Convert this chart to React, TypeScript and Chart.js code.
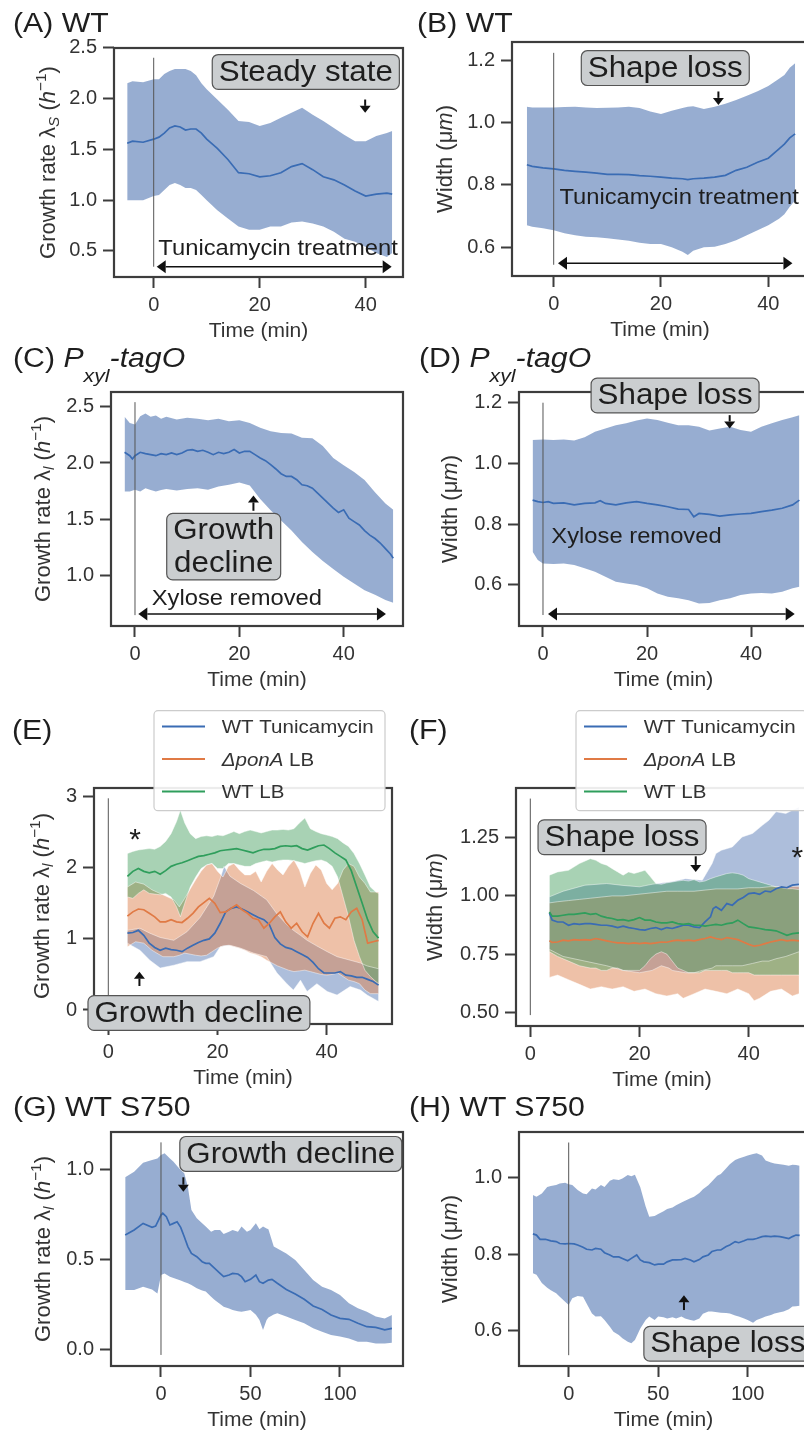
import React, { useEffect, useRef } from "react";
import { Chart, registerables } from "chart.js";
Chart.register(...registerables);

if (typeof document !== "undefined") {
  document.documentElement.style.overflow = "hidden";
  document.body.style.margin = "0";
  document.body.style.overflow = "hidden";
}

const FONT = '"Liberation Sans", Arial, Helvetica, sans-serif';
const INK = "#1e1e1e";
const AXIS = "#3d3d3d";
const TICK_TEXT = "#333333";
const STRETCH = 1.08;

const BLUE_LINE = "#3a6cb4";
const ORANGE_LINE = "#e07a45";
const GREEN_LINE = "#2f9e5c";
const BLUE_BAND = "rgba(76,114,176,0.58)";
const BLUE_BAND_MIX = "rgba(76,114,176,0.46)";
const ORANGE_BAND = "rgba(221,132,82,0.5)";
const GREEN_BAND = "rgba(70,160,95,0.47)";
const EDGE = "rgba(255,255,255,0.45)";

// ---------------- Panel A (WT, growth rate) ----------------
const aTime = [-5, -4, -2, 0, 1, 2, 3, 4, 5, 6, 7, 8, 9, 10, 12, 14, 16, 18, 20, 22, 24, 26, 28, 30, 32, 34, 36, 38, 40, 42, 44, 45];
const aMean = [1.56, 1.58, 1.57, 1.6, 1.62, 1.66, 1.71, 1.73, 1.72, 1.69, 1.7, 1.7, 1.66, 1.6, 1.51, 1.4, 1.27, 1.26, 1.23, 1.24, 1.27, 1.33, 1.36, 1.3, 1.23, 1.2, 1.15, 1.09, 1.04, 1.06, 1.07, 1.06];
const aUpper = [2.15, 2.17, 2.16, 2.19, 2.19, 2.24, 2.27, 2.29, 2.29, 2.29, 2.27, 2.23, 2.15, 2.09, 1.99, 1.89, 1.78, 1.77, 1.73, 1.76, 1.81, 1.86, 1.91, 1.84, 1.78, 1.71, 1.64, 1.58, 1.58, 1.63, 1.66, 1.68];
const aLower = [1.0, 1.0, 1.0, 1.04, 1.05, 1.1, 1.15, 1.17, 1.15, 1.12, 1.12, 1.1, 1.05, 1.0, 0.9, 0.82, 0.74, 0.71, 0.71, 0.74, 0.74, 0.78, 0.79, 0.77, 0.74, 0.69, 0.62, 0.59, 0.54, 0.48, 0.44, 0.48];

// ---------------- Panel B (WT, width) ----------------
const bTime = [-5, -4, -2, 0, 2, 4, 6, 8, 10, 12, 14, 16, 18, 20, 22, 24, 25, 26, 28, 30, 32, 34, 36, 38, 40, 42, 43, 44, 45];
const bMean = [0.864, 0.859, 0.854, 0.851, 0.846, 0.843, 0.84, 0.837, 0.833, 0.833, 0.832, 0.829, 0.827, 0.824, 0.821, 0.819, 0.816, 0.819, 0.821, 0.824, 0.83, 0.846, 0.856, 0.872, 0.885, 0.915, 0.93, 0.95, 0.963];
const bUpper = [1.05, 1.048, 1.048, 1.048, 1.049, 1.05, 1.048, 1.046, 1.047, 1.048, 1.05, 1.046, 1.035, 1.027, 1.037, 1.046, 1.05, 1.052, 1.043, 1.05, 1.06, 1.072, 1.085, 1.1, 1.117, 1.14, 1.152, 1.175, 1.19];
const bLower = [0.67, 0.665, 0.66, 0.654, 0.644, 0.638, 0.633, 0.631, 0.628, 0.624, 0.62, 0.614, 0.61, 0.61, 0.599, 0.585, 0.574, 0.588, 0.599, 0.601, 0.61, 0.622, 0.638, 0.654, 0.67, 0.691, 0.705, 0.729, 0.75];

// ---------------- Panel C (Pxyl-tagO, growth rate) ----------------
const cTime = [-2, -1, -0.5, 0, 1, 2, 3, 4, 5, 6, 7, 8, 9, 10, 11, 12, 13, 14, 15, 16, 17, 18, 19, 20, 21, 22, 23, 24, 25, 26, 27, 28, 29, 30, 31, 32, 33, 34, 35, 36, 37, 38, 39, 40, 41, 42, 43, 44, 45, 46, 47, 48, 49, 49.5];
const cMean = [2.095, 2.065, 2.036, 2.065, 2.095, 2.083, 2.074, 2.065, 2.083, 2.074, 2.089, 2.074, 2.089, 2.113, 2.119, 2.104, 2.113, 2.095, 2.074, 2.095, 2.083, 2.095, 2.119, 2.089, 2.104, 2.104, 2.074, 2.045, 2.021, 1.985, 1.947, 1.905, 1.881, 1.881, 1.852, 1.807, 1.798, 1.777, 1.733, 1.688, 1.644, 1.599, 1.561, 1.585, 1.51, 1.48, 1.45, 1.4, 1.36, 1.33, 1.29, 1.24, 1.19, 1.155];
const cBandTime = [-2, -1, 0, 1, 2, 3, 4, 5, 6, 8, 10, 12, 14, 16, 18, 20, 22, 24, 26, 28, 30, 32, 34, 36, 38, 40, 42, 44, 46, 48, 49.5];
const cUpper = [2.41, 2.356, 2.341, 2.415, 2.439, 2.41, 2.421, 2.392, 2.41, 2.386, 2.401, 2.392, 2.38, 2.392, 2.371, 2.38, 2.356, 2.312, 2.282, 2.267, 2.261, 2.223, 2.22, 2.15, 2.045, 1.98, 1.92, 1.85, 1.74, 1.64, 1.585];
const cLower = [1.748, 1.748, 1.763, 1.748, 1.777, 1.76, 1.748, 1.76, 1.769, 1.757, 1.769, 1.777, 1.763, 1.792, 1.807, 1.828, 1.8, 1.68, 1.58, 1.49, 1.4, 1.3, 1.21, 1.13, 1.06, 0.99, 0.93, 0.87, 0.83, 0.785, 0.76];

// ---------------- Panel D (Pxyl-tagO, width) ----------------
const dTime = [-2, -1, 0, 1, 2, 4, 6, 8, 10, 11, 12, 14, 16, 18, 20, 22, 24, 26, 28, 29, 30, 32, 34, 36, 38, 40, 42, 44, 46, 48, 49.3];
const dMean = [0.879, 0.874, 0.871, 0.874, 0.868, 0.87, 0.863, 0.868, 0.87, 0.877, 0.868, 0.863, 0.87, 0.874, 0.868, 0.863, 0.857, 0.849, 0.848, 0.824, 0.835, 0.832, 0.826, 0.83, 0.833, 0.835, 0.841, 0.846, 0.852, 0.863, 0.879];
const dBandTime = [-2, -1, 0, 2, 4, 6, 8, 10, 12, 14, 16, 18, 20, 22, 24, 26, 28, 30, 32, 34, 36, 38, 40, 42, 44, 46, 48, 49.3];
const dUpper = [1.077, 1.078, 1.079, 1.077, 1.079, 1.075, 1.086, 1.104, 1.115, 1.126, 1.132, 1.141, 1.148, 1.143, 1.134, 1.126, 1.126, 1.121, 1.108, 1.115, 1.121, 1.11, 1.104, 1.121, 1.132, 1.143, 1.152, 1.159];
const dLower = [0.709, 0.681, 0.67, 0.668, 0.67, 0.665, 0.654, 0.643, 0.626, 0.61, 0.604, 0.599, 0.588, 0.571, 0.56, 0.555, 0.549, 0.538, 0.54, 0.549, 0.555, 0.566, 0.571, 0.573, 0.571, 0.577, 0.588, 0.593];

// ---------------- Panel E (growth rate, three conditions) ----------------
const eMeanTime = [3.5, 4.5, 5.5, 6.5, 7.5, 8.5, 9.5, 10.5, 11.5, 12.5, 13.5, 14.5, 15.5, 16.5, 17.5, 18.5, 19.5, 20.5, 21.5, 22.5, 23.5, 24.5, 25.5, 26.5, 27.5, 28.5, 29.5, 30.5, 31.5, 32.5, 33.5, 34.5, 35.5, 36.5, 37.5, 38.5, 39.5, 40.5, 41.5, 42.5, 43.5, 44.5, 45.5, 46.5, 47.5, 48.5, 49.5];
const eTunMean = [1.08, 1.09, 1.12, 1.05, 0.94, 0.88, 0.84, 0.87, 0.85, 0.84, 0.82, 0.87, 0.91, 0.95, 0.98, 1.0, 1.08, 1.22, 1.38, 1.43, 1.45, 1.42, 1.38, 1.34, 1.3, 1.27, 1.2, 1.02, 0.93, 0.88, 0.86, 0.82, 0.78, 0.74, 0.67, 0.58, 0.52, 0.52, 0.52, 0.54, 0.49, 0.48, 0.46, 0.46, 0.43, 0.4, 0.35];
const eTunBandTime = [3.5, 5.8, 7.6, 9.5, 12, 14.4, 16.8, 19.3, 20.5, 21.2, 22.3, 24.2, 26.6, 29, 30.9, 32.7, 33.9, 35.2, 36.4, 38.2, 40.1, 41.9, 44.3, 46.2, 47.4, 49.5];
const eTunUpper = [1.12, 1.15, 1.08, 1.02, 0.98, 1.1, 1.3, 1.6, 1.85, 2.02, 1.88, 1.78, 1.68, 1.55, 1.35, 1.2, 1.12, 1.05, 0.98, 0.9, 0.82, 0.75, 0.7, 0.66, 0.62, 0.58];
const eTunLower = [0.94, 0.84, 0.7, 0.59, 0.63, 0.68, 0.68, 0.75, 0.89, 0.9, 0.91, 0.87, 0.8, 0.75, 0.52, 0.37, 0.28, 0.42, 0.26, 0.37, 0.26, 0.21, 0.33, 0.28, 0.21, 0.12];
const ePonMean = [1.32, 1.38, 1.42, 1.41, 1.36, 1.31, 1.24, 1.24, 1.27, 1.24, 1.23, 1.29, 1.36, 1.45, 1.51, 1.57, 1.5, 1.37, 1.38, 1.43, 1.48, 1.41, 1.36, 1.29, 1.27, 1.15, 1.22, 1.31, 1.38, 1.24, 1.15, 1.22, 1.1, 1.03, 1.22, 1.36, 1.22, 1.15, 1.29, 1.31, 1.27, 1.38, 1.43, 1.27, 0.94, 0.96, 0.98];
const ePonBandTime = [3.5, 5, 6.5, 8, 10, 12, 13, 14, 16, 17, 18, 19, 20, 21, 22, 23, 24, 25, 26, 27, 28, 29, 30, 31, 32, 33, 34, 35, 36, 37, 38, 39, 40, 41, 42, 43, 44, 45, 46, 47, 48, 49.5];
const ePonUpper = [1.73, 1.8, 1.77, 1.69, 1.62, 1.55, 1.45, 1.57, 1.83, 1.95, 2.04, 2.06, 1.95, 1.87, 2.02, 2.06, 1.97, 1.9, 1.9, 1.95, 1.8, 1.95, 2.06, 1.97, 1.9, 2.02, 2.11, 1.97, 1.73, 1.92, 2.04, 1.97, 1.78, 1.69, 1.78, 1.97, 2.06, 2.02, 1.87, 1.78, 1.66, 1.66];
const ePonLower = [0.89, 0.96, 0.94, 0.84, 0.75, 0.75, 0.77, 0.8, 0.77, 0.76, 0.77, 0.82, 0.87, 0.9, 0.91, 0.89, 0.87, 0.84, 0.8, 0.78, 0.75, 0.7, 0.66, 0.62, 0.59, 0.56, 0.54, 0.55, 0.56, 0.54, 0.52, 0.5, 0.49, 0.5, 0.52, 0.47, 0.42, 0.4, 0.37, 0.28, 0.23, 0.23];
const eLbMean = [1.88, 1.95, 1.99, 1.95, 1.93, 1.95, 1.91, 1.96, 2.02, 2.05, 2.07, 2.1, 2.13, 2.16, 2.17, 2.19, 2.21, 2.24, 2.25, 2.26, 2.27, 2.25, 2.23, 2.21, 2.24, 2.26, 2.26, 2.27, 2.3, 2.31, 2.3, 2.31, 2.27, 2.25, 2.28, 2.31, 2.32, 2.27, 2.21, 2.16, 2.11, 1.96, 1.73, 1.5, 1.27, 1.1, 1.01];
const eLbBandTime = [3.5, 4.5, 5.5, 6.5, 7.5, 8.5, 9.5, 10.5, 11.5, 12.5, 13.2, 14, 15, 16, 17, 18, 19, 20, 21, 22, 23, 24, 25, 26, 27, 28, 29, 30, 31, 32, 33, 34, 35, 36, 37, 38, 39, 40, 41, 42, 43, 44, 45, 46, 47, 48, 49, 49.5];
const eLbUpper = [2.2, 2.23, 2.25, 2.26, 2.27, 2.26, 2.3, 2.37, 2.48, 2.65, 2.81, 2.63, 2.48, 2.41, 2.44, 2.45, 2.44, 2.46, 2.45, 2.48, 2.51, 2.48, 2.51, 2.53, 2.51, 2.49, 2.51, 2.53, 2.53, 2.54, 2.53, 2.55, 2.63, 2.7, 2.55, 2.51, 2.48, 2.46, 2.44, 2.41, 2.35, 2.3, 2.2, 2.06, 1.9, 1.73, 1.66, 1.64];
const eLbLower = [1.59, 1.57, 1.64, 1.69, 1.64, 1.63, 1.62, 1.64, 1.59, 1.45, 1.31, 1.5, 1.73, 1.87, 1.99, 2.04, 2.06, 1.99, 1.99, 2.06, 2.06, 2.04, 2.02, 2.02, 2.06, 2.08, 2.1, 2.08, 2.1, 2.11, 2.11, 2.1, 2.08, 2.06, 2.08, 2.1, 2.11, 2.08, 2.02, 1.87, 1.59, 1.31, 0.98, 0.75, 0.56, 0.47, 0.4, 0.37];

// ---------------- Panel F (width, three conditions) ----------------
const fTunTime = [3.5, 4, 5, 6, 7, 8, 9, 10, 11, 12, 13, 14, 15, 16, 17, 18, 19, 20, 21, 22, 23, 24, 25, 26, 27, 28, 29, 30, 31, 32, 33, 33.5, 34, 35, 36, 37, 38, 39, 40, 41, 42, 43, 44, 45, 46, 47, 48, 49.2];
const fTunMean = [0.927, 0.896, 0.888, 0.888, 0.874, 0.881, 0.878, 0.881, 0.881, 0.878, 0.874, 0.874, 0.87, 0.864, 0.87, 0.864, 0.86, 0.855, 0.853, 0.86, 0.864, 0.855, 0.864, 0.86, 0.867, 0.874, 0.874, 0.867, 0.864, 0.888, 0.91, 0.946, 0.953, 0.938, 0.967, 0.96, 0.981, 0.993, 1.01, 1.013, 1.007, 1.021, 1.017, 1.031, 1.039, 1.036, 1.046, 1.05];
const fTunBandTime = [3.5, 6, 10, 14, 17, 20, 22.3, 24, 25.4, 26, 28.4, 30, 31.5, 33.3, 34, 35, 37, 38.8, 40.7, 42.5, 43.7, 45, 46.8, 48, 49.2];
const fTunUpper = [0.996, 1.02, 1.046, 1.053, 1.045, 1.039, 1.05, 1.055, 1.06, 1.062, 1.074, 1.07, 1.067, 1.139, 1.182, 1.196, 1.21, 1.253, 1.268, 1.303, 1.325, 1.361, 1.354, 1.368, 1.382];
const fTunLower = [0.77, 0.74, 0.72, 0.7, 0.68, 0.67, 0.68, 0.7, 0.69, 0.68, 0.67, 0.67, 0.68, 0.69, 0.7, 0.7, 0.7, 0.7, 0.71, 0.72, 0.72, 0.73, 0.74, 0.75, 0.76];
const fMeanTime = [3.5, 4, 5, 6, 7, 8, 9, 10, 11, 12, 13, 14, 15, 16, 17, 18, 19, 20, 21, 22, 23, 24, 25, 26, 27, 28, 29, 30, 31, 32, 33, 34, 35, 36, 37, 38, 39, 40, 41, 42, 43, 44, 45, 46, 47, 48, 49.2];
const fPonMean = [0.807, 0.8, 0.802, 0.81, 0.807, 0.812, 0.81, 0.812, 0.81, 0.817, 0.812, 0.807, 0.802, 0.798, 0.798, 0.795, 0.798, 0.795, 0.798, 0.795, 0.798, 0.802, 0.801, 0.807, 0.81, 0.807, 0.81, 0.807, 0.812, 0.817, 0.824, 0.817, 0.812, 0.821, 0.817, 0.812, 0.802, 0.792, 0.784, 0.788, 0.795, 0.802, 0.807, 0.812, 0.807, 0.81, 0.807];
const fPonBandTime = [3.5, 5, 7, 9, 11, 13, 15, 17, 19, 21, 23, 25, 27, 28, 30, 32, 34, 36, 38, 40, 41, 42, 44, 46, 48, 49.2];
const fPonUpper = [0.97, 0.975, 0.98, 0.985, 0.99, 0.995, 1.0, 1.0, 1.005, 1.01, 1.015, 1.02, 1.02, 1.02, 1.02, 1.025, 1.03, 1.03, 1.03, 1.035, 1.035, 1.035, 1.04, 1.04, 1.04, 1.04];
const fPonLower = [0.65, 0.66, 0.64, 0.62, 0.6, 0.61, 0.6, 0.61, 0.59, 0.6, 0.58, 0.57, 0.58, 0.56, 0.58, 0.6, 0.59, 0.58, 0.6, 0.58, 0.55, 0.56, 0.59, 0.6, 0.57, 0.58];
const fLbMean = [0.931, 0.913, 0.913, 0.917, 0.921, 0.921, 0.924, 0.927, 0.921, 0.924, 0.913, 0.907, 0.903, 0.896, 0.898, 0.893, 0.898, 0.907, 0.896, 0.896, 0.888, 0.884, 0.884, 0.888, 0.881, 0.878, 0.881, 0.874, 0.874, 0.87, 0.874, 0.878, 0.874, 0.881, 0.884, 0.896, 0.881, 0.867, 0.864, 0.86, 0.855, 0.853, 0.85, 0.841, 0.831, 0.838, 0.841];
const fLbBandTime = [3.5, 5, 7, 9, 11, 12, 13, 14, 15, 16, 17, 18, 19, 20, 21, 22, 23, 24, 25, 26, 27, 28, 29, 30, 31, 32, 33, 34, 35, 36, 37, 38, 39, 40, 41, 42, 43, 44, 45, 46, 47, 48, 49.2];
const fLbUpper = [1.089, 1.103, 1.11, 1.139, 1.16, 1.153, 1.139, 1.132, 1.117, 1.103, 1.089, 1.103, 1.096, 1.103, 1.11, 1.082, 1.053, 1.05, 1.056, 1.06, 1.064, 1.067, 1.064, 1.07, 1.06, 1.064, 1.074, 1.082, 1.089, 1.096, 1.099, 1.096, 1.089, 1.074, 1.067, 1.06, 1.053, 1.046, 1.039, 1.036, 1.031, 1.031, 1.027];
const fLbLower = [0.76, 0.74, 0.72, 0.7, 0.69, 0.69, 0.68, 0.68, 0.69, 0.69, 0.68, 0.68, 0.68, 0.68, 0.7, 0.73, 0.75, 0.76, 0.75, 0.72, 0.69, 0.68, 0.67, 0.67, 0.67, 0.68, 0.68, 0.68, 0.68, 0.68, 0.67, 0.67, 0.67, 0.67, 0.66, 0.66, 0.66, 0.66, 0.66, 0.66, 0.66, 0.66, 0.66];

// ---------------- Panel G (WT S750, growth rate) ----------------
const gTime = [-20, -15, -10, -5, -3, 0, 1, 3, 5, 7, 9, 11, 13, 15, 17, 20, 23, 25, 27, 30, 33, 35, 38, 40, 43, 45, 47, 50, 53, 55, 57, 60, 62, 65, 70, 75, 80, 85, 90, 95, 100, 105, 110, 115, 120, 125, 129];
const gMean = [0.633, 0.661, 0.698, 0.676, 0.683, 0.744, 0.754, 0.735, 0.689, 0.698, 0.707, 0.676, 0.624, 0.569, 0.531, 0.513, 0.485, 0.476, 0.476, 0.448, 0.42, 0.402, 0.411, 0.42, 0.417, 0.402, 0.374, 0.387, 0.411, 0.374, 0.365, 0.383, 0.387, 0.365, 0.331, 0.306, 0.276, 0.239, 0.22, 0.189, 0.17, 0.165, 0.143, 0.124, 0.12, 0.106, 0.115];
const gBandTime = [-20, -15, -10, -5, -2, 0, 2, 5, 7, 9, 11, 13, 15, 17, 20, 23, 25, 28, 30, 33, 35, 38, 40, 43, 45, 48, 50, 53, 55, 57, 59, 60, 63, 65, 70, 75, 80, 85, 90, 95, 100, 105, 110, 115, 120, 125, 129];
const gUpper = [0.954, 0.985, 1.035, 1.05, 1.059, 1.078, 1.087, 1.059, 1.041, 1.017, 0.994, 0.976, 0.902, 0.772, 0.726, 0.698, 0.68, 0.652, 0.661, 0.661, 0.639, 0.652, 0.661, 0.652, 0.68, 0.652, 0.661, 0.698, 0.665, 0.68, 0.67, 0.665, 0.569, 0.559, 0.531, 0.494, 0.439, 0.383, 0.346, 0.328, 0.3, 0.254, 0.226, 0.207, 0.18, 0.17, 0.189];
const gLower = [0.328, 0.328, 0.346, 0.331, 0.309, 0.411, 0.42, 0.402, 0.395, 0.388, 0.38, 0.372, 0.365, 0.355, 0.337, 0.325, 0.319, 0.29, 0.272, 0.25, 0.235, 0.225, 0.217, 0.21, 0.207, 0.212, 0.217, 0.19, 0.161, 0.106, 0.161, 0.175, 0.192, 0.198, 0.18, 0.161, 0.143, 0.115, 0.096, 0.078, 0.069, 0.059, 0.041, 0.041, 0.031, 0.031, 0.035];

// ---------------- Panel H (WT S750, width) ----------------
const hTime = [-20, -18, -16, -13, -10, -7, -5, -2, 0, 3, 5, 8, 10, 13, 15, 18, 20, 23, 25, 28, 30, 33, 35, 38, 40, 42, 45, 48, 50, 53, 55, 58, 60, 63, 65, 68, 70, 73, 75, 78, 80, 83, 85, 88, 90, 93, 95, 98, 100, 103, 105, 108, 110, 113, 115, 118, 120, 123, 125, 127, 129];
const hMean = [0.853, 0.85, 0.839, 0.839, 0.835, 0.833, 0.828, 0.827, 0.828, 0.827, 0.824, 0.818, 0.813, 0.811, 0.815, 0.813, 0.804, 0.798, 0.793, 0.793, 0.789, 0.783, 0.789, 0.798, 0.785, 0.78, 0.778, 0.772, 0.774, 0.774, 0.78, 0.785, 0.785, 0.786, 0.789, 0.785, 0.78, 0.786, 0.793, 0.798, 0.807, 0.811, 0.811, 0.82, 0.824, 0.833, 0.83, 0.835, 0.839, 0.839, 0.841, 0.846, 0.847, 0.846, 0.847, 0.846, 0.844, 0.841, 0.846, 0.85, 0.849];
const hBandTime = [-20, -18, -15, -12, -10, -7, -5, -2, 0, 2, 5, 8, 10, 13, 15, 18, 20, 23, 25, 28, 30, 33, 35, 37, 40, 43, 45, 48, 50, 53, 55, 58, 60, 63, 65, 68, 70, 73, 75, 78, 80, 83, 85, 88, 90, 93, 95, 98, 100, 103, 105, 108, 110, 113, 115, 118, 120, 123, 125, 127, 129];
const hUpper = [0.955, 0.95, 0.959, 0.976, 0.978, 0.981, 0.985, 0.987, 0.983, 0.981, 0.968, 0.959, 0.957, 0.972, 0.969, 0.981, 0.976, 0.992, 0.996, 0.994, 0.998, 1.007, 1.004, 1.008, 0.975, 0.925, 0.898, 0.9, 0.905, 0.912, 0.918, 0.922, 0.928, 0.935, 0.94, 0.946, 0.95, 0.96, 0.97, 0.98, 0.99, 1.005, 1.01, 1.025, 1.035, 1.046, 1.05, 1.055, 1.058, 1.062, 1.064, 1.058, 1.045, 1.04, 1.037, 1.035, 1.034, 1.031, 1.034, 1.033, 1.031];
const hLower = [0.75, 0.746, 0.725, 0.712, 0.706, 0.698, 0.689, 0.676, 0.667, 0.685, 0.691, 0.689, 0.671, 0.645, 0.637, 0.638, 0.628, 0.61, 0.597, 0.589, 0.58, 0.571, 0.567, 0.576, 0.606, 0.628, 0.637, 0.628, 0.637, 0.635, 0.632, 0.635, 0.632, 0.637, 0.632, 0.628, 0.626, 0.632, 0.644, 0.65, 0.65, 0.648, 0.647, 0.646, 0.645, 0.64, 0.637, 0.632, 0.628, 0.621, 0.628, 0.633, 0.637, 0.641, 0.645, 0.648, 0.65, 0.656, 0.663, 0.664, 0.665];

// ---------------- Tick values ----------------
const xTicks40 = [0, 20, 40];
const xTicks100 = [0, 50, 100];
const aYTicks = [0.5, 1.0, 1.5, 2.0, 2.5];
const bYTicks = [0.6, 0.8, 1.0, 1.2];
const cYTicks = [1.0, 1.5, 2.0, 2.5];
const dYTicks = [0.6, 0.8, 1.0, 1.2];
const eYTicks = [0, 1, 2, 3];
const fYTicks = [0.5, 0.75, 1.0, 1.25];
const gYTicks = [0.0, 0.5, 1.0];
const hYTicks = [0.6, 0.8, 1.0];

type Seg = { t: string; it?: boolean; sub?: boolean; sup?: boolean };

const yGrowthS: Seg[] = [{ t: "Growth rate " }, { t: "λ" }, { t: "S", it: true, sub: true }, { t: " (" }, { t: "h", it: true }, { t: "−1", sup: true }, { t: ")" }];
const yGrowthL: Seg[] = [{ t: "Growth rate " }, { t: "λ" }, { t: "l", it: true, sub: true }, { t: " (" }, { t: "h", it: true }, { t: "−1", sup: true }, { t: ")" }];
const yWidth: Seg[] = [{ t: "Width (" }, { t: "μ" }, { t: "m", it: true }, { t: ")" }];

const labTun: Seg[] = [{ t: "WT Tunicamycin" }];
const labPon: Seg[] = [{ t: "ΔponA", it: true }, { t: " LB" }];
const labLb: Seg[] = [{ t: "WT LB" }];

interface Series {
  meanT: number[]; mean: number[]; bandT: number[]; upper: number[]; lower: number[];
  line: string; band: string; edge?: string; label?: Seg[];
}
interface Ann {
  k: "box" | "arrow" | "darrow" | "text" | "star";
  x?: number; y?: number; lines?: string[]; left?: boolean;
  y0?: number; y1?: number; x0?: number; x1?: number; t?: string;
}
interface Panel {
  key: string;
  frame: { l: number; t: number; r: number; b: number };
  xMin: number; xMax: number; xTicks: number[];
  yMin: number; yMax: number; yTicks: number[]; yDec: number;
  yTitle: Seg[]; yTitleOff: number;
  series: Series[];
  vline: [number, number];
  anns: Ann[];
  legend?: { dx: number; dy: number };
}

const single = (meanT: number[], mean: number[], bandT: number[], upper: number[], lower: number[]): Series[] => [
  { meanT, mean, bandT, upper, lower, line: BLUE_LINE, band: BLUE_BAND },
];

const PANELS: Panel[] = [
  {
    key: "A", frame: { l: 114, t: 48, r: 403, b: 277 },
    xMin: -7.49, xMax: 47.04, xTicks: xTicks40,
    yMin: 0.244, yMax: 2.497, yTicks: aYTicks, yDec: 1,
    yTitle: yGrowthS, yTitleOff: 67,
    series: single(aTime, aMean, aTime, aUpper, aLower),
    vline: [2.401, 0.345],
    anns: [
      { k: "box", x: 28.7, y: 2.2615, lines: ["Steady state"] },
      { k: "arrow", x: 39.9, y0: 1.99, y1: 1.859 },
      { k: "darrow", y: 0.345, x0: 0.57, x1: 44.9 },
      { k: "text", x: 0.88, y: 0.4605, t: "Tunicamycin treatment" },
    ],
  },
  {
    key: "B", frame: { l: 512, t: 42, r: 808, b: 276 },
    xMin: -7.77, xMax: 47.4, xTicks: xTicks40,
    yMin: 0.507, yMax: 1.2578, yTicks: bYTicks, yDec: 1,
    yTitle: yWidth, yTitleOff: 68,
    series: single(bTime, bMean, bTime, bUpper, bLower),
    vline: [1.223, 0.543],
    anns: [
      { k: "box", x: 20.8, y: 1.174, lines: ["Shape loss"] },
      { k: "arrow", x: 30.7, y0: 1.099, y1: 1.056 },
      { k: "darrow", y: 0.548, x0: 0.8, x1: 44.5 },
      { k: "text", x: 1.06, y: 0.737, t: "Tunicamycin treatment" },
    ],
  },
  {
    key: "C", frame: { l: 111, t: 392, r: 403, b: 626 },
    xMin: -4.6, xMax: 51.37, xTicks: xTicks40,
    yMin: 0.5536, yMax: 2.63, yTicks: cYTicks, yDec: 1,
    yTitle: yGrowthL, yTitleOff: 69,
    series: single(cTime, cMean, cBandTime, cUpper, cLower),
    vline: [2.54, 0.65],
    anns: [
      { k: "box", x: 17.0, y: 1.258, lines: ["Growth", "decline"] },
      { k: "arrow", x: 22.7, y0: 1.576, y1: 1.712 },
      { k: "darrow", y: 0.659, x0: 0.64, x1: 48.1 },
      { k: "text", x: 3.2, y: 0.739, t: "Xylose removed" },
    ],
  },
  {
    key: "D", frame: { l: 519, t: 392, r: 808, b: 626 },
    xMin: -4.615, xMax: 50.96, xTicks: xTicks40,
    yMin: 0.4638, yMax: 1.2353, yTicks: dYTicks, yDec: 1,
    yTitle: yWidth, yTitleOff: 70,
    series: single(dTime, dMean, dBandTime, dUpper, dLower),
    vline: [1.2, 0.5],
    anns: [
      { k: "box", x: 25.4, y: 1.2236, lines: ["Shape loss"] },
      { k: "arrow", x: 35.9, y0: 1.159, y1: 1.115 },
      { k: "darrow", y: 0.503, x0: 0.96, x1: 48.4 },
      { k: "text", x: 1.6, y: 0.736, t: "Xylose removed" },
    ],
  },
  {
    key: "E", frame: { l: 94, t: 788, r: 392, b: 1024 },
    xMin: -2.62, xMax: 51.96, xTicks: xTicks40,
    yMin: -0.197, yMax: 3.122, yTicks: eYTicks, yDec: 0,
    yTitle: yGrowthL, yTitleOff: 53,
    series: [
      { meanT: eMeanTime, mean: eTunMean, bandT: eTunBandTime, upper: eTunUpper, lower: eTunLower, line: BLUE_LINE, band: BLUE_BAND_MIX, edge: EDGE, label: labTun },
      { meanT: eMeanTime, mean: ePonMean, bandT: ePonBandTime, upper: ePonUpper, lower: ePonLower, line: ORANGE_LINE, band: ORANGE_BAND, edge: EDGE, label: labPon },
      { meanT: eMeanTime, mean: eLbMean, bandT: eLbBandTime, upper: eLbUpper, lower: eLbLower, line: GREEN_LINE, band: GREEN_BAND, edge: EDGE, label: labLb },
    ],
    vline: [2.977, -0.15],
    anns: [
      { k: "star", x: 4.9, y: 2.508 },
      { k: "arrow", x: 5.7, y0: 0.337, y1: 0.539 },
      { k: "box", x: 16.6, y: -0.043, lines: ["Growth decline"] },
    ],
    legend: { dx: 60, dy: -77.3 },
  },
  {
    key: "F", frame: { l: 516, t: 788, r: 808, b: 1026 },
    xMin: -2.62, xMax: 50.86, xTicks: xTicks40,
    yMin: 0.4412, yMax: 1.4635, yTicks: fYTicks, yDec: 2,
    yTitle: yWidth, yTitleOff: 82,
    series: [
      { meanT: fTunTime, mean: fTunMean, bandT: fTunBandTime, upper: fTunUpper, lower: fTunLower, line: BLUE_LINE, band: BLUE_BAND_MIX, edge: EDGE, label: labTun },
      { meanT: fMeanTime, mean: fPonMean, bandT: fPonBandTime, upper: fPonUpper, lower: fPonLower, line: ORANGE_LINE, band: ORANGE_BAND, edge: EDGE, label: labPon },
      { meanT: fMeanTime, mean: fLbMean, bandT: fLbBandTime, upper: fLbUpper, lower: fLbLower, line: GREEN_LINE, band: GREEN_BAND, edge: EDGE, label: labLb },
    ],
    vline: [1.418, 0.488],
    anns: [
      { k: "box", x: 16.8, y: 1.252, lines: ["Shape loss"] },
      { k: "arrow", x: 30.3, y0: 1.17, y1: 1.103 },
      { k: "star", x: 48.9, y: 1.196 },
    ],
    legend: { dx: 60, dy: -77.3 },
  },
  {
    key: "G", frame: { l: 111, t: 1132, r: 403, b: 1366 },
    xMin: -27.93, xMax: 135.2, xTicks: xTicks100,
    yMin: -0.0944, yMax: 1.2056, yTicks: gYTicks, yDec: 1,
    yTitle: yGrowthL, yTitleOff: 69,
    series: single(gTime, gMean, gBandTime, gUpper, gLower),
    vline: [1.148, -0.033],
    anns: [
      { k: "box", x: 72.5, y: 1.084, lines: ["Growth decline"] },
      { k: "arrow", x: 12.5, y0: 0.954, y1: 0.874 },
    ],
  },
  {
    key: "H", frame: { l: 519, t: 1132, r: 808, b: 1366 },
    xMin: -27.77, xMax: 133.7, xTicks: xTicks100,
    yMin: 0.5077, yMax: 1.1195, yTicks: hYTicks, yDec: 1,
    yTitle: yWidth, yTitleOff: 70,
    series: single(hTime, hMean, hBandTime, hUpper, hLower),
    vline: [1.092, 0.536],
    anns: [
      { k: "box", x: 42.0, y: 0.566, lines: ["Shape loss"], left: true },
      { k: "arrow", x: 64.4, y0: 0.654, y1: 0.693 },
    ],
  },
];

const TITLES: { x: number; base: number; parts: Seg[] }[] = [
  { x: 12.7, base: 33.3, parts: [{ t: "(A) WT" }] },
  { x: 417, base: 33.3, parts: [{ t: "(B) WT" }] },
  { x: 13.3, base: 368.3, parts: [{ t: "(C) " }, { t: "P", it: true }, { t: "xyl", it: true, sub: true }, { t: "-tagO", it: true }] },
  { x: 418.7, base: 368.3, parts: [{ t: "(D) " }, { t: "P", it: true }, { t: "xyl", it: true, sub: true }, { t: "-tagO", it: true }] },
  { x: 11.7, base: 740, parts: [{ t: "(E)" }] },
  { x: 408.7, base: 740, parts: [{ t: "(F)" }] },
  { x: 13.3, base: 1116.7, parts: [{ t: "(G) WT S750" }] },
  { x: 408.7, base: 1116.7, parts: [{ t: "(H) WT S750" }] },
];

const ML = 112, MT = 95, MR = 30, MB = 75;

// ---------------- drawing helpers ----------------
function segFont(s: Seg, size: number) {
  const sz = s.sub || s.sup ? size * 0.7 : size;
  return `${s.it ? "italic " : ""}${sz}px ${FONT}`;
}
function richWidth(ctx: CanvasRenderingContext2D, segs: Seg[], size: number) {
  let w = 0;
  for (const s of segs) { ctx.font = segFont(s, size); w += ctx.measureText(s.t).width; }
  return w;
}
function drawRich(ctx: CanvasRenderingContext2D, segs: Seg[], x: number, y: number, size: number,
  align: "left" | "center", rotate: boolean, color: string, stretch: number) {
  ctx.save();
  ctx.translate(x, y);
  if (rotate) ctx.rotate(-Math.PI / 2);
  ctx.scale(stretch, 1);
  const w = richWidth(ctx, segs, size);
  let cx = align === "center" ? -w / 2 : 0;
  ctx.textAlign = "left";
  ctx.textBaseline = "alphabetic";
  ctx.fillStyle = color;
  for (const s of segs) {
    ctx.font = segFont(s, size);
    const dy = s.sub ? size * 0.2 : s.sup ? -size * 0.4 : 0;
    ctx.fillText(s.t, cx, dy);
    cx += ctx.measureText(s.t).width;
  }
  ctx.restore();
}
function roundRectPath(ctx: CanvasRenderingContext2D, x: number, y: number, w: number, h: number, r: number) {
  ctx.beginPath();
  ctx.moveTo(x + r, y);
  ctx.lineTo(x + w - r, y);
  ctx.arcTo(x + w, y, x + w, y + r, r);
  ctx.lineTo(x + w, y + h - r);
  ctx.arcTo(x + w, y + h, x + w - r, y + h, r);
  ctx.lineTo(x + r, y + h);
  ctx.arcTo(x, y + h, x, y + h - r, r);
  ctx.lineTo(x, y + r);
  ctx.arcTo(x, y, x + r, y, r);
  ctx.closePath();
}
function drawBox(ctx: CanvasRenderingContext2D, px: number, py: number, lines: string[], left: boolean) {
  const size = 29;
  ctx.save();
  ctx.font = `${size}px ${FONT}`;
  const tw = Math.max(...lines.map((l) => ctx.measureText(l).width)) * STRETCH;
  const n = lines.length;
  const w = tw + 13;
  const h = 1.2 * size * n - (n - 1) * 3;
  const cx = left ? px + w / 2 : px;
  const x = cx - w / 2, y = py - h / 2;
  roundRectPath(ctx, x, y, w, h, 6);
  ctx.fillStyle = "#cbced0";
  ctx.fill();
  ctx.strokeStyle = "#555555";
  ctx.lineWidth = 1.2;
  ctx.stroke();
  const sp = 1.2 * size - 1.5;
  lines.forEach((l, i) => {
    const base = py + (i - (n - 1) / 2) * sp + 0.3 * size;
    ctx.save();
    ctx.translate(cx, base);
    ctx.scale(STRETCH, 1);
    ctx.font = `${size}px ${FONT}`;
    ctx.textAlign = "center";
    ctx.textBaseline = "alphabetic";
    ctx.fillStyle = INK;
    ctx.fillText(l, 0, 0);
    ctx.restore();
  });
  ctx.restore();
}
function drawArrowV(ctx: CanvasRenderingContext2D, x: number, ya: number, yb: number) {
  const dir = Math.sign(yb - ya);
  const hl = 7, hw = 5.5;
  ctx.save();
  ctx.strokeStyle = "#111";
  ctx.fillStyle = "#111";
  ctx.lineWidth = 2;
  ctx.beginPath();
  ctx.moveTo(x, ya);
  ctx.lineTo(x, yb - dir * hl);
  ctx.stroke();
  ctx.beginPath();
  ctx.moveTo(x, yb);
  ctx.lineTo(x - hw, yb - dir * hl);
  ctx.lineTo(x + hw, yb - dir * hl);
  ctx.closePath();
  ctx.fill();
  ctx.restore();
}
function drawDoubleArrow(ctx: CanvasRenderingContext2D, x0: number, x1: number, y: number) {
  const hl = 9, hw = 6.5;
  ctx.save();
  ctx.strokeStyle = "#111";
  ctx.fillStyle = "#111";
  ctx.lineWidth = 1.5;
  ctx.beginPath();
  ctx.moveTo(x0 + hl, y);
  ctx.lineTo(x1 - hl, y);
  ctx.stroke();
  ctx.beginPath();
  ctx.moveTo(x0, y);
  ctx.lineTo(x0 + hl, y - hw);
  ctx.lineTo(x0 + hl, y + hw);
  ctx.closePath();
  ctx.fill();
  ctx.beginPath();
  ctx.moveTo(x1, y);
  ctx.lineTo(x1 - hl, y - hw);
  ctx.lineTo(x1 - hl, y + hw);
  ctx.closePath();
  ctx.fill();
  ctx.restore();
}

function decorPlugin(p: Panel) {
  return {
    id: "decor" + p.key,
    afterDatasetsDraw(chart: any) {
      const { ctx, chartArea: a, scales } = chart;
      const X = (v: number) => scales.x.getPixelForValue(v);
      const Y = (v: number) => scales.y.getPixelForValue(v);
      ctx.save();
      ctx.strokeStyle = "#555555";
      ctx.lineWidth = 1;
      ctx.beginPath();
      ctx.moveTo(X(0), Y(p.vline[0]));
      ctx.lineTo(X(0), Y(p.vline[1]));
      ctx.stroke();
      ctx.strokeStyle = AXIS;
      ctx.lineWidth = 2.2;
      ctx.strokeRect(a.left, a.top, a.right - a.left, a.bottom - a.top);
      ctx.restore();
    },
    afterDraw(chart: any) {
      const { ctx, chartArea: a, scales } = chart;
      const X = (v: number) => scales.x.getPixelForValue(v);
      const Y = (v: number) => scales.y.getPixelForValue(v);
      drawRich(ctx, p.yTitle, a.left - p.yTitleOff + 0.36 * 22, (a.top + a.bottom) / 2, 22, "center", true, TICK_TEXT, 1);
      if (p.legend) {
        const lx = a.left + p.legend.dx, ly = a.top + p.legend.dy, w = 231, h = 100;
        ctx.save();
        roundRectPath(ctx, lx, ly, w, h, 4);
        ctx.fillStyle = "rgba(255,255,255,0.9)";
        ctx.fill();
        ctx.strokeStyle = "#cccccc";
        ctx.lineWidth = 1.2;
        ctx.stroke();
        p.series.forEach((s, i) => {
          const yy = ly + 15.7 + i * 32.5;
          ctx.strokeStyle = s.line;
          ctx.lineWidth = 2;
          ctx.beginPath();
          ctx.moveTo(lx + 8, yy);
          ctx.lineTo(lx + 51, yy);
          ctx.stroke();
          drawRich(ctx, s.label || [], lx + 67.7, yy + 0.36 * 19, 19, "left", false, TICK_TEXT, STRETCH);
        });
        ctx.restore();
      }
      for (const an of p.anns) {
        if (an.k === "box") drawBox(ctx, X(an.x!), Y(an.y!), an.lines!, !!an.left);
        else if (an.k === "arrow") drawArrowV(ctx, X(an.x!), Y(an.y0!), Y(an.y1!));
        else if (an.k === "darrow") drawDoubleArrow(ctx, X(an.x0!), X(an.x1!), Y(an.y!));
        else if (an.k === "text") drawRich(ctx, [{ t: an.t! }], X(an.x!), Y(an.y!), 22, "left", false, INK, STRETCH);
        else if (an.k === "star") {
          ctx.save();
          ctx.font = `30px ${FONT}`;
          ctx.textAlign = "center";
          ctx.textBaseline = "alphabetic";
          ctx.fillStyle = INK;
          ctx.fillText("*", X(an.x!), Y(an.y!) + 0.57 * 30);
          ctx.restore();
        }
      }
    },
  };
}

const pts = (t: number[], v: number[]) => t.map((x, i) => ({ x, y: v[i] }));

function buildConfig(p: Panel): any {
  const datasets: any[] = [];
  const rev = [...p.series].reverse();
  for (const s of rev) {
    datasets.push({ data: pts(s.meanT, s.mean), fill: false, borderColor: s.line, borderWidth: 1.7, pointRadius: 0, tension: 0 });
  }
  for (const s of rev) {
    datasets.push({
      data: pts(s.bandT, s.upper), fill: "+1", backgroundColor: s.band,
      borderColor: s.edge || "rgba(0,0,0,0)", borderWidth: s.edge ? 1 : 0, pointRadius: 0, tension: 0,
    });
    datasets.push({
      data: pts(s.bandT, s.lower), fill: false,
      borderColor: s.edge || "rgba(0,0,0,0)", borderWidth: s.edge ? 1 : 0, pointRadius: 0, tension: 0,
    });
  }
  const tickFont = { family: FONT, size: 20 };
  const grid = { display: true, drawOnChartArea: false, drawTicks: true, tickLength: 11, tickWidth: 2, tickColor: AXIS };
  return {
    type: "line",
    data: { datasets },
    options: {
      animation: false,
      responsive: false,
      maintainAspectRatio: false,
      events: [],
      layout: { padding: { left: 0, top: MT, right: MR, bottom: 0 } },
      plugins: {
        legend: { display: false }, tooltip: { enabled: false }, title: { display: false },
        filler: { drawTime: "beforeDatasetsDraw", propagate: false },
      },
      scales: {
        x: {
          type: "linear", min: p.xMin, max: p.xMax,
          afterBuildTicks: (sc: any) => { sc.ticks = p.xTicks.map((v) => ({ value: v })); },
          afterFit: (sc: any) => { sc.height = MB; },
          grid, border: { display: false },
          ticks: { font: tickFont, color: TICK_TEXT, padding: 5, maxRotation: 0, autoSkip: false, callback: (v: any) => String(v) },
          title: { display: true, text: "Time (min)", color: TICK_TEXT, font: { family: FONT, size: 21 }, padding: { top: 0, bottom: 8.4 } },
        },
        y: {
          type: "linear", min: p.yMin, max: p.yMax,
          afterBuildTicks: (sc: any) => { sc.ticks = p.yTicks.map((v) => ({ value: v })); },
          afterFit: (sc: any) => { sc.width = ML; },
          grid, border: { display: false },
          ticks: { font: tickFont, color: TICK_TEXT, padding: 6, autoSkip: false, callback: (v: any) => Number(v).toFixed(p.yDec) },
        },
      },
    },
    plugins: [decorPlugin(p)],
  };
}

function PanelChart({ p }: { p: Panel }) {
  const ref = useRef<HTMLCanvasElement>(null);
  const cx = p.frame.l - ML, cy = p.frame.t - MT;
  const cw = p.frame.r - p.frame.l + ML + MR, ch = p.frame.b - p.frame.t + MT + MB;
  useEffect(() => {
    const chart = new Chart(ref.current as HTMLCanvasElement, buildConfig(p));
    return () => chart.destroy();
  }, [p]);
  return (
    <canvas ref={ref} width={cw} height={ch}
      style={{ position: "absolute", left: cx, top: cy, width: cw, height: ch }} />
  );
}

export default function App() {
  return (
    <div style={{ position: "relative", width: 804, height: 1433, margin: 0, overflow: "hidden", background: "#fff", fontFamily: FONT }}>
      {PANELS.map((p) => <PanelChart key={p.key} p={p} />)}
      {TITLES.map((t, i) => (
        <div key={i} style={{
          position: "absolute", left: t.x, top: t.base - 22.85, fontSize: 27, lineHeight: "27px",
          whiteSpace: "nowrap", color: INK, transform: "scaleX(1.12)", transformOrigin: "left top",
        }}>
          {t.parts.map((s, j) => (
            <span key={j} style={{
              fontStyle: s.it ? "italic" : "normal",
              fontSize: s.sub ? 19 : 27,
              position: "relative", top: s.sub ? 15 : 0,
            }}>{s.t}</span>
          ))}
        </div>
      ))}
    </div>
  );
}
